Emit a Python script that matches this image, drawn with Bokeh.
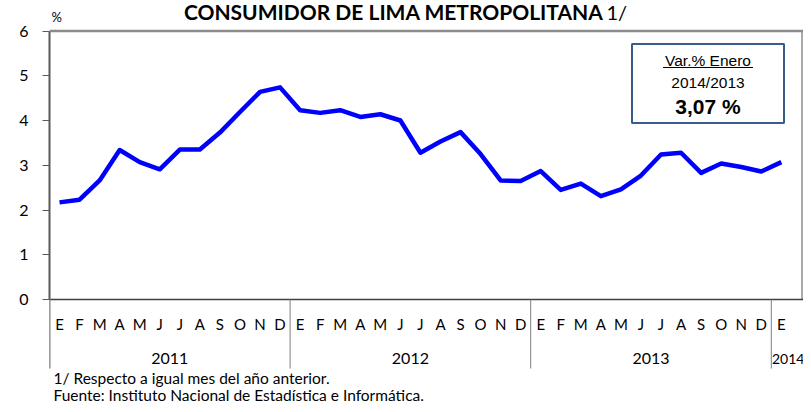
from bokeh.plotting import figure
from bokeh.models import Range1d, FixedTicker
from bokeh.embed import file_html
from bokeh.resources import INLINE
from bokeh.core.properties import value

# ---- data ----
month_letters = ["E", "F", "M", "A", "M", "J", "J", "A", "S", "O", "N", "D"]
years = ["2011", "2012", "2013", "2014"]
inflation = [2.17, 2.23, 2.66, 3.34, 3.07, 2.91, 3.35, 3.35, 3.73, 4.19, 4.64, 4.74,
             4.23, 4.17, 4.23, 4.08, 4.14, 4.00, 3.28, 3.53, 3.74, 3.25, 2.66, 2.65,
             2.87, 2.45, 2.59, 2.31, 2.46, 2.77, 3.24, 3.28, 2.83, 3.04, 2.96, 2.86,
             3.07]
y_ticks = [0, 1, 2, 3, 4, 5, 6]
title_main = "CONSUMIDOR DE LIMA METROPOLITANA"
title_note = "1/"
box_title = "Var.% Enero"
box_period = "2014/2013"
footnote1 = "1/ Respecto a  igual mes del año anterior."
footnote2 = "Fuente: Instituto Nacional de Estadística e Informática."

# ---- layout constants ----
W, H = 803, 404
LEFT = 49
PX_X = 20.05
PX_Y = 44.75
Y0 = 299
x_end = (W - LEFT) / PX_X
y_top = Y0 / PX_Y
y_bot = -(H - Y0) / PX_Y

def rx(px):  # pixel x -> data x
    return (px - LEFT) / PX_X

def ry(py):  # pixel y -> data y
    return (Y0 - py) / PX_Y

n = len(inflation)
xs = [i + 0.5 for i in range(n)]
labels = [month_letters[i % 12] for i in range(n)]

p = figure(width=W, height=H, title=None,
           x_range=Range1d(0, x_end), y_range=Range1d(y_bot, y_top),
           output_backend="svg", toolbar_location=None, x_axis_location=None,
           min_border_left=LEFT, min_border_right=0, min_border_top=0, min_border_bottom=0)
p.outline_line_color = None
p.grid.visible = False
p.background_fill_color = "white"
p.border_fill_color = "white"

ax = p.yaxis[0]
ax.ticker = FixedTicker(ticks=y_ticks)
ax.bounds = (0, 6)
ax.major_tick_out = 7
ax.major_tick_in = 0
ax.minor_tick_out = 0
ax.minor_tick_in = 0
ax.axis_line_color = "#595959"
ax.axis_line_width = 2
ax.major_tick_line_color = "#595959"
ax.major_label_text_font = "Lato"
ax.major_label_text_font_size = "16px"
ax.major_label_text_color = "black"
ax.major_label_standoff = 14

# frame borders
p.segment(x0=[0], y0=[6], x1=[rx(803)], y1=[6], line_color="#8c8c8c", line_width=2.5)
p.segment(x0=[rx(801.5)], y0=[0], x1=[rx(801.5)], y1=[6], line_color="#8c8c8c", line_width=1.5)
# x axis line
p.segment(x0=[0], y0=[0], x1=[x_end], y1=[0], line_color="#404040", line_width=1.5)
# category dividers
div_x = [0, 12, 24, 36]
p.segment(x0=div_x, y0=[0] * 4, x1=div_x, y1=[ry(368)] * 4, line_color="#7f7f7f", line_width=1)
p.segment(x0=[0], y0=[0], x1=[0], y1=[ry(368)], line_color="#7f7f7f", line_width=2)

# data line
p.line(xs, inflation, line_color="#0000FF", line_width=4.5, line_join="round")

# month letters
p.text(x=xs, y=[ry(323)] * n, text=labels, text_align="center", text_baseline="middle",
       text_font=value("Lato"), text_font_size="15px", text_color="black")
# years
p.text(x=[6, 18, 30], y=[ry(358)] * 3, text=years[:3], text_align="center", text_baseline="middle",
       text_font=value("Lato"), text_font_size="16px", text_color="black")
p.text(x=[rx(771.5)], y=[ry(358)], text=years[3:], text_align="left", text_baseline="middle",
       text_font=value("Lato"), text_font_size="14px", text_color="black")

# footnotes
p.text(x=[rx(53), rx(53)], y=[ry(377), ry(394)], text=[footnote1, footnote2],
       text_align="left", text_baseline="middle",
       text_font=value("Lato"), text_font_size="15.5px", text_color="black")

# title
p.text(x=[rx(603)], y=[ry(11)], text=[title_main], text_align="right", text_baseline="middle",
       text_font=value("Lato"), text_font_size="21px", text_font_style="bold", text_color="black")
p.text(x=[rx(606)], y=[ry(11)], text=[title_note], text_align="left", text_baseline="middle",
       text_font=value("Lato"), text_font_size="20px", text_color="black")

# percent unit
p.text(x=[rx(51)], y=[ry(16)], text=["%"], text_align="left", text_baseline="middle",
       text_font=value("Lato"), text_font_size="13px", text_color="black")

# box annotation
p.quad(left=[rx(631.5)], right=[rx(783.5)], top=[ry(43.5)], bottom=[ry(122.5)],
       fill_color="white", line_color="#385d8a", line_width=2)
cx = rx(707.5)
p.text(x=[cx], y=[ry(60)], text=[box_title], text_align="center", text_baseline="middle",
       text_font=value("Liberation Sans"), text_font_size="15.5px", text_color="black")
p.segment(x0=[rx(662.5)], y0=[ry(67)], x1=[rx(752.5)], y1=[ry(67)], line_color="black", line_width=1)
p.text(x=[cx], y=[ry(82)], text=[box_period], text_align="center", text_baseline="middle",
       text_font=value("Liberation Sans"), text_font_size="15.5px", text_color="black")
box_value = f"{inflation[-1]:.2f} %".replace(".", ",")
p.text(x=[cx], y=[ry(106)], text=[box_value], text_align="center", text_baseline="middle",
       text_font=value("Liberation Sans"), text_font_size="21px", text_font_style="bold",
       text_color="black")

open("out.html", "w").write(file_html(p, INLINE))
